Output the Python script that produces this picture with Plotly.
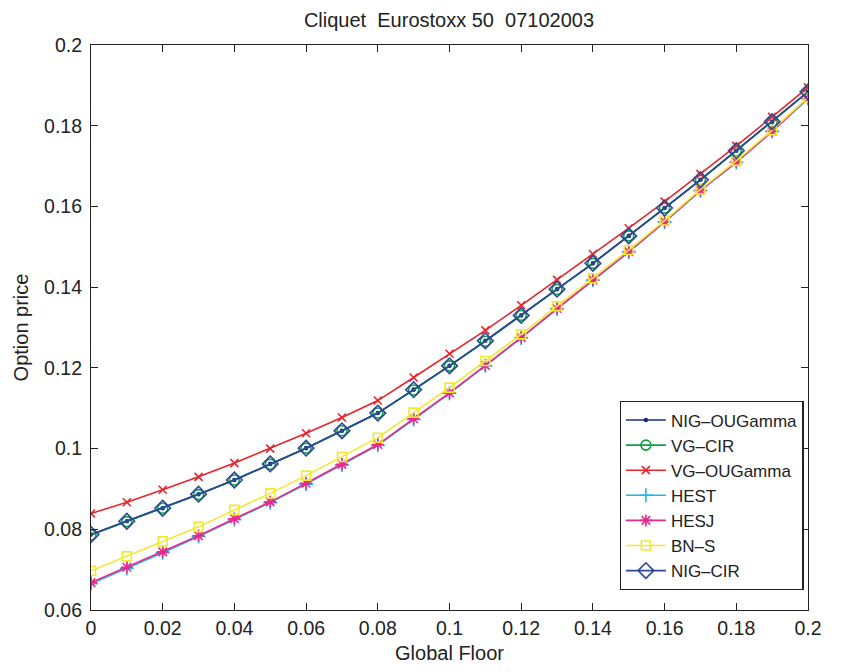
import plotly.graph_objects as go

floor = [0.00, 0.01, 0.02, 0.03, 0.04, 0.05, 0.06, 0.07, 0.08, 0.09, 0.10,
         0.11, 0.12, 0.13, 0.14, 0.15, 0.16, 0.17, 0.18, 0.19, 0.20]

nig_ougamma = [0.0787, 0.0820, 0.0852, 0.0887, 0.0922, 0.0962, 0.1001, 0.1044, 0.1088, 0.1146, 0.1205,
               0.1267, 0.1330, 0.1395, 0.1459, 0.1527, 0.1596, 0.1666, 0.1738, 0.1810, 0.1884]
vg_cir = [0.0786, 0.0819, 0.0852, 0.0886, 0.0922, 0.0961, 0.1001, 0.1044, 0.1088, 0.1145, 0.1205,
          0.1266, 0.1330, 0.1394, 0.1459, 0.1527, 0.1596, 0.1666, 0.1738, 0.1810, 0.1884]
vg_ougamma = [0.0839, 0.0867, 0.0898, 0.0930, 0.0964, 0.1000, 0.1038, 0.1077, 0.1119, 0.1176, 0.1235,
              0.1293, 0.1355, 0.1418, 0.1482, 0.1546, 0.1612, 0.1680, 0.1750, 0.1822, 0.1895]
hest = [0.0665, 0.0703, 0.0742, 0.0782, 0.0824, 0.0866, 0.0912, 0.0959, 0.1008, 0.1072, 0.1137,
        0.1205, 0.1274, 0.1346, 0.1417, 0.1487, 0.1561, 0.1639, 0.1709, 0.1786, 0.1867]
hesj = [0.0668, 0.0706, 0.0744, 0.0784, 0.0826, 0.0868, 0.0914, 0.0961, 0.1010, 0.1074, 0.1138,
        0.1206, 0.1275, 0.1347, 0.1418, 0.1488, 0.1562, 0.1640, 0.1710, 0.1786, 0.1868]
bn_s = [0.0697, 0.0733, 0.0770, 0.0806, 0.0848, 0.0889, 0.0933, 0.0979, 0.1027, 0.1089, 0.1151,
        0.1217, 0.1283, 0.1353, 0.1422, 0.1492, 0.1565, 0.1642, 0.1713, 0.1789, 0.1870]
nig_cir = [0.0787, 0.0820, 0.0852, 0.0887, 0.0922, 0.0962, 0.1001, 0.1044, 0.1088, 0.1146, 0.1205,
           0.1267, 0.1330, 0.1395, 0.1459, 0.1527, 0.1596, 0.1666, 0.1738, 0.1810, 0.1884]

x_ticks = [0, 0.02, 0.04, 0.06, 0.08, 0.1, 0.12, 0.14, 0.16, 0.18, 0.2]
x_labels = ["0", "0.02", "0.04", "0.06", "0.08", "0.1", "0.12", "0.14", "0.16", "0.18", "0.2"]
y_ticks = [0.06, 0.08, 0.1, 0.12, 0.14, 0.16, 0.18, 0.2]
y_labels = ["0.06", "0.08", "0.1", "0.12", "0.14", "0.16", "0.18", "0.2"]

series = [
    ("NIG\u2013OUGamma", nig_ougamma, "#1c2c8c", "circle", 3),
    ("VG\u2013CIR", vg_cir, "#10a040", "circle-open", 10),
    ("VG\u2013OUGamma", vg_ougamma, "#e8242c", "x-thin-open", 8),
    ("HEST", hest, "#22b4ec", "cross-thin-open", 10),
    ("HESJ", hesj, "#e8288c", "asterisk-open", 10),
    ("BN\u2013S", bn_s, "#f2e830", "square-open", 9),
    ("NIG\u2013CIR", nig_cir, "#2c4896", "diamond-open", 12),
]

fig = go.Figure()
for name, vals, col, sym, sz in series:
    fig.add_trace(go.Scatter(
        x=floor, y=vals, name=name, mode="lines+markers",
        line=dict(color=col, width=1.6),
        marker=dict(symbol=sym, size=sz, color=col, line=dict(color=col, width=1.6)),
    ))

font = "Liberation Sans, Arial, Helvetica, sans-serif"
fig.update_layout(
    width=828, height=656,
    margin=dict(l=83, r=28, t=37, b=54),
    paper_bgcolor="white", plot_bgcolor="white",
    font=dict(family=font, size=19, color="#222222"),
    title=dict(text="Cliquet  Eurostoxx 50  07102003", x=0.5326, xanchor="center",
               y=0.981, yanchor="middle", font=dict(size=20, family=font, color="#222222")),
    showlegend=True,
    legend=dict(x=0.994, y=0.035, xanchor="right", yanchor="bottom",
                bgcolor="white", bordercolor="#222222", borderwidth=1.2,
                font=dict(size=17, family=font, color="#222222"),
                tracegroupgap=0, itemwidth=40),
)
fig.update_xaxes(
    range=[0, 0.2], tickvals=x_ticks, ticktext=x_labels, automargin=False,
    showgrid=False, zeroline=False, showline=True, linecolor="#222222", linewidth=1.2,
    mirror="allticks", ticks="inside", ticklen=7, tickcolor="#222222",
    tickfont=dict(size=19.5, family=font),
    title=dict(text="Global Floor", font=dict(size=20, family=font), standoff=14),
)
fig.update_yaxes(
    range=[0.06, 0.2], tickvals=y_ticks, ticktext=y_labels, automargin=False,
    showgrid=False, zeroline=False, showline=True, linecolor="#222222", linewidth=1.2,
    mirror="allticks", ticks="inside", ticklen=7, tickcolor="#222222",
    tickfont=dict(size=19.5, family=font), ticklabelstandoff=4,
    title=dict(text="Option price", font=dict(size=20, family=font), standoff=10),
)

fig.write_html("out.html")
